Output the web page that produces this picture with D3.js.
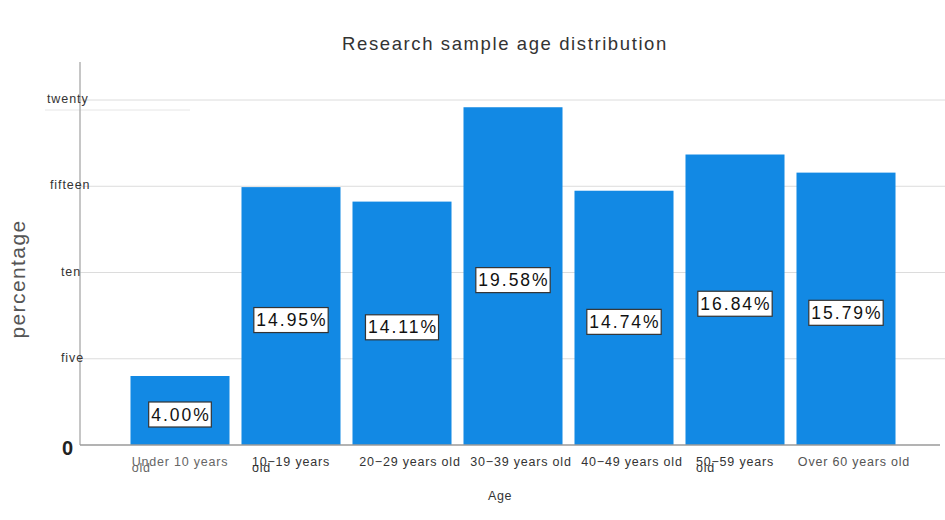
<!DOCTYPE html>
<html><head><meta charset="utf-8">
<script src="https://cdn.jsdelivr.net/npm/d3@7"></script>
<style>body{margin:0;background:#fff}svg{display:block;font-family:"Liberation Sans",Arial,sans-serif}</style>
</head><body>
<svg id="c" width="945" height="520"></svg>
<script>
const categories = ["Under 10 years old","10\u221219 years old","20\u221229 years old","30\u221239 years old","40\u221249 years old","50\u221259 years old","Over 60 years old"];
const values = [4.00, 14.95, 14.11, 19.58, 14.74, 16.84, 15.79];
const valueLabels = ["4.00%","14.95%","14.11%","19.58%","14.74%","16.84%","15.79%"];
const tickValues = [0, 5, 10, 15, 20];
const tickLabels = ["0", "five", "ten", "fifteen", "twenty"];
const title = "Research sample age distribution";
const xTitle = "Age";
const yTitle = "percentage";

const svg = d3.select("#c");
const baseY = 445, left = 80;
const y = d3.scaleLinear().domain([0, 20]).range([baseY, 100]);
const x = d3.scaleBand().domain(categories).range([124.5, 901.5]).paddingInner(0.108).paddingOuter(0.054);
const barColor = "#1289e4";

// gridlines
svg.append("g").selectAll("line").data(tickValues.filter(v => v > 0)).join("line")
  .attr("x1", left).attr("x2", 945).attr("y1", d => y(d)).attr("y2", d => y(d))
  .attr("stroke", "#dcdcdc").attr("stroke-width", 1);
svg.append("line").attr("x1", 45).attr("x2", 190).attr("y1", y(20) + 10).attr("y2", y(20) + 10)
  .attr("stroke", "#e6e6e6").attr("stroke-width", 1);

// bars
svg.append("g").selectAll("rect").data(values).join("rect")
  .attr("x", (d, i) => x(categories[i])).attr("width", x.bandwidth())
  .attr("y", d => y(d)).attr("height", d => baseY - y(d))
  .attr("fill", barColor);

// axes lines
svg.append("line").attr("x1", left).attr("x2", left).attr("y1", 62).attr("y2", baseY)
  .attr("stroke", "#a8a8a8").attr("stroke-width", 1.3);
svg.append("line").attr("x1", left).attr("x2", 940).attr("y1", baseY).attr("y2", baseY)
  .attr("stroke", "#9a9a9a").attr("stroke-width", 1.3);

// y tick labels
const tickX = {"0": 62, "five": 61, "ten": 61, "fifteen": 50, "twenty": 47};
const yAxis = d3.axisLeft(y).tickValues(tickValues).tickSize(0).tickFormat((d, i) => tickLabels[i]);
const ya = svg.append("g").attr("transform", `translate(${left},0)`).call(yAxis);
ya.select(".domain").remove();
ya.selectAll("text")
  .attr("text-anchor", "start")
  .attr("x", d => tickX[tickLabels[tickValues.indexOf(d)]] - left)
  .attr("dy", d => d === 0 ? "0.45em" : "0.2em")
  .attr("fill", d => d === 0 ? "#222" : "#333")
  .style("font-size", d => d === 0 ? "20px" : "12.5px")
  .style("letter-spacing", d => d === 0 ? "0px" : "0.9px")
  .style("font-weight", d => d === 0 ? "bold" : "normal")
  .style("font-family", "'Liberation Sans',Arial,sans-serif");

// x labels
const xg = svg.append("g").style("font-size", "12.5px").style("letter-spacing", "0.8px");
categories.forEach((c, i) => {
  const cx = x(c) + x.bandwidth() / 2;
  const wrapped = [0, 1, 5].includes(i);
  if (wrapped) {
    const first = c.replace(/ old$/, "");
    const t = xg.append("text").attr("x", cx).attr("y", 466).attr("text-anchor", "middle")
      .attr("fill", i === 0 ? "#666" : "#333").text(first);
    const bb = t.node().getBBox();
    xg.append("text").attr("x", bb.x).attr("y", 472).attr("fill", i === 0 ? "#666" : "#333")
      .text("old");
  } else {
    xg.append("text").attr("x", cx + 8).attr("y", 466).attr("text-anchor", "middle")
      .attr("fill", i === 6 ? "#555" : "#333").text(c);
  }
});

// value labels
const lg = svg.append("g");
values.forEach((v, i) => {
  const cx = x(categories[i]) + x.bandwidth() / 2;
  const cy = (y(v) + baseY) / 2 + 4;
  const t = lg.append("text").attr("x", cx + 1).attr("y", cy).attr("text-anchor", "middle")
    .attr("dominant-baseline", "central").style("font-size", "17.5px").style("font-weight", "500")
    .style("letter-spacing", "2px")
    .attr("fill", "#111").text(valueLabels[i]);
  const bb = t.node().getBBox();
  lg.insert("rect", "text").attr("x", bb.x - 2.5).attr("y", cy - 12.5).attr("width", bb.width + 3).attr("height", 25)
    .attr("fill", "#fff").attr("stroke", "#333").attr("stroke-width", 1.2);
});

// titles
svg.append("text").attr("x", 505).attr("y", 50).attr("text-anchor", "middle")
  .style("font-size", "18.5px").style("letter-spacing", "1.6px").attr("fill", "#333").text(title);
svg.append("text").attr("x", 500).attr("y", 500).attr("text-anchor", "middle")
  .style("font-size", "12.5px").style("letter-spacing", "0.6px").attr("fill", "#333").text(xTitle);
svg.append("text").attr("transform", "translate(25,279) rotate(-90)").attr("text-anchor", "middle")
  .style("font-size", "21px").style("letter-spacing", "1.4px").attr("fill", "#555").text(yTitle);
</script>
</body></html>
